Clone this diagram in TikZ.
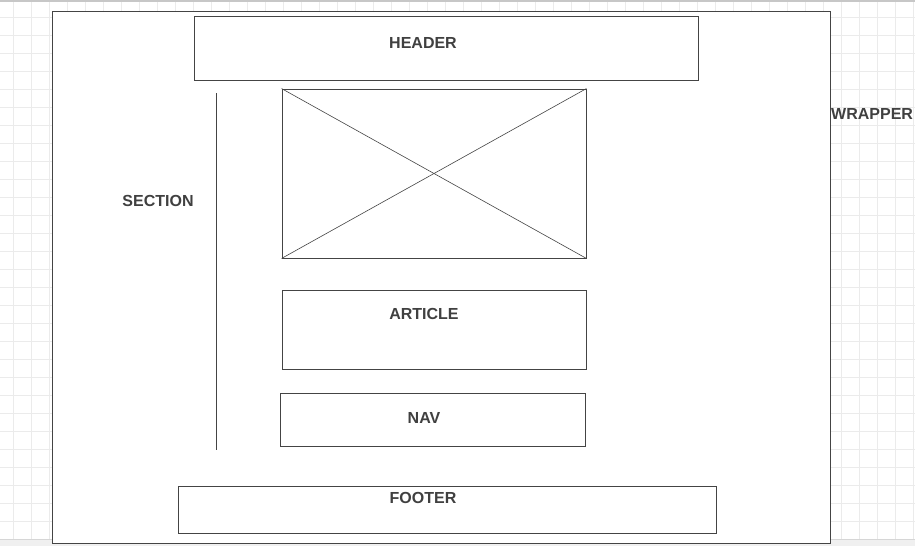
\documentclass[tikz,border=0pt]{standalone}
\usepackage{fontspec}
\setmainfont{Liberation Sans}
\usetikzlibrary{positioning}
\definecolor{edgegrey}{HTML}{444444}
\definecolor{textgrey}{HTML}{404040}
\definecolor{gridgrey}{HTML}{EBEBEB}
\begin{document}
\begin{tikzpicture}[
        x=1pt, y=1pt,
        node distance=32pt,
        box/.style={rectangle, draw=edgegrey, fill=white, line width=0.9pt, inner sep=0pt},
        tag/.style={font=\fontsize{16}{18}\selectfont\bfseries, text=textgrey, inner sep=0pt, anchor=base}
    ]
        \useasboundingbox (0,0) rectangle (915,-546);
        % canvas grid
        \begin{scope}
            \clip (0,0) rectangle (915,-546);
            \foreach \gx in {0,...,50} {
                \draw[gridgrey, line width=0.9pt] (13.7+18*\gx,0) -- (13.7+18*\gx,-546);
            }
            \foreach \gy in {0,...,30} {
                \draw[gridgrey, line width=0.9pt] (0,-17.3-18*\gy) -- (915,-17.3-18*\gy);
            }
            \fill[black!22] (0,0) rectangle (915,-1.5);
            \fill[black!6] (0,-539) rectangle (915,-546);
            \draw[black!16] (0,-539) -- (915,-539);
        \end{scope}

        \node[box, minimum width=778pt, minimum height=532pt] (wrapper) at (441,-277) {};
        \node[box, minimum width=504pt, minimum height=64pt] (header) at (446,-48) {};

        \node[box, minimum width=304pt, minimum height=169pt] (img) at (434,-173.5) {};
        \draw[edgegrey, line width=0.6pt] (img.north west) -- (img.south east);
        \draw[edgegrey, line width=0.6pt] (img.south west) -- (img.north east);

        \node[box, minimum width=304pt, minimum height=79pt, below=of img] (article) {};
        \node[box, minimum width=305pt, minimum height=53pt, below=23pt of article, xshift=-1.5pt] (nav) {};
        \node[box, minimum width=538pt, minimum height=47pt] (footer) at (447,-509.5) {};

        \coordinate (sectop) at (216,-93);
        \coordinate (secbot) at (216,-450);
        \draw[edgegrey, line width=0.9pt] (sectop) -- (secbot);

        \node[tag] (headertxt) at (423,-48) {HEADER};
        \node[tag] (sectiontxt) at (158,-206) {SECTION};
        \node[tag] (articletxt) at (424,-319) {ARTICLE};
        \node[tag] (navtxt) at (424,-423) {NAV};
        \node[tag] (footertxt) at (423,-503) {FOOTER};
        \node[tag, anchor=base west] (wrappertxt) at (831,-119) {WRAPPER};
    \end{tikzpicture}
\end{document}
